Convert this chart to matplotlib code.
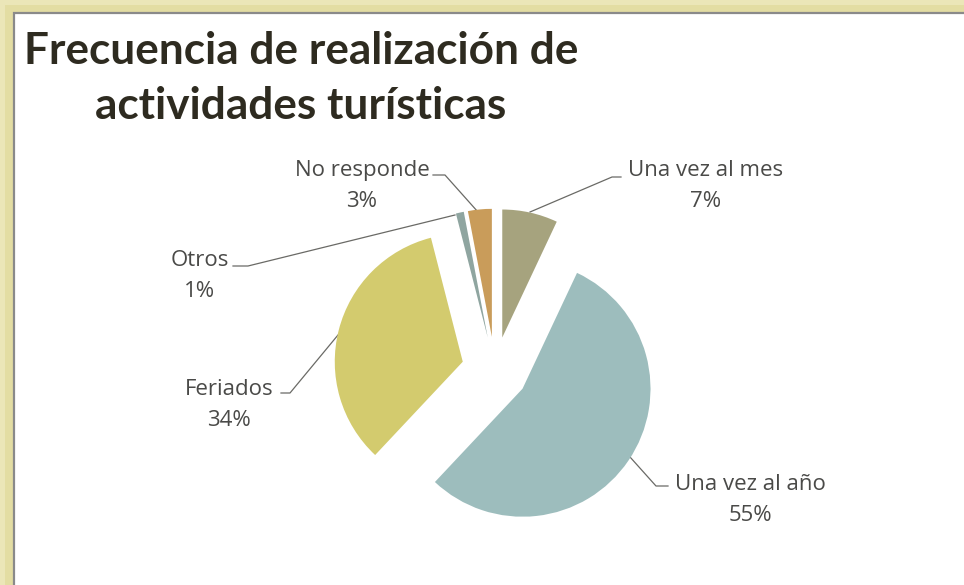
import matplotlib
matplotlib.use("Agg")
import matplotlib.pyplot as plt
from matplotlib.patches import Rectangle

# ---------- data ----------
categories = ["Una vez al mes", "Una vez al año", "Feriados", "Otros", "No responde"]
shares = [7, 55, 34, 1, 3]
colors = ["#a6a37e", "#9dbdbd", "#d3cb6e", "#8fa5a0", "#c99c5a"]
title_lines = ["Frecuencia de realización de", "actividades turísticas"]

# label centres and leader lines, in pixel coords of the 964x585 image (y down)
label_xy = [(706, 186), (750, 500), (229, 405), (200, 276), (362, 186)]
leaders = [
    [(621, 177), (612, 177), (530, 212)],
    [(668, 486), (656, 486), (630, 457)],
    [(281, 393), (290, 393), (338, 335)],
    [(233, 266), (248, 266), (455, 215)],
    [(433, 175), (445, 175), (478, 212)],
]

W, H = 964, 585
CX, CY, R = 495, 370, 128  # pie centre / radius in pixels

fig = plt.figure(figsize=(W / 100, H / 100), dpi=100)

# ---------- background frame ----------
bg = fig.add_axes([0, 0, 1, 1])
bg.set_xlim(0, W)
bg.set_ylim(H, 0)
bg.axis("off")
bg.add_patch(Rectangle((0, 0), W, H, facecolor="#e3dda3", edgecolor="none"))
bg.add_patch(Rectangle((0, 0), W, 5, facecolor="#ebe6b8", edgecolor="none"))
bg.add_patch(Rectangle((0, 0), 5, H, facecolor="#ebe6b8", edgecolor="none"))
bg.add_patch(Rectangle((13.5, 12.5), W, H, facecolor="white",
                       edgecolor="#8a8a8a", linewidth=1.6))

for line, yb in zip(title_lines, [64, 119]):
    bg.text(301, yb, line, ha="center", va="baseline", fontsize=31.8,
            fontweight="bold", family="Lato", color="#2e2b20")

for (cat, val), (x, y), pts in zip(zip(categories, shares), label_xy, leaders):
    bg.text(x, y, f"{cat}\n{val}%", ha="center", va="center",
            fontsize=16, family="Open Sans", color="#4a4a48", linespacing=1.6)
    xs, ys = zip(*pts)
    bg.plot(xs, ys, color="#6a6a66", linewidth=0.9)

# ---------- pie ----------
ax = fig.add_axes([0, 0, 1, 1])
ax.patch.set_alpha(0)
ax.pie(shares, colors=colors, startangle=90, counterclock=False,
       explode=[0.26] * len(shares), radius=1,
       wedgeprops=dict(linewidth=0))
ax.set_xlim(-CX / R, (W - CX) / R)
ax.set_ylim(-(H - CY) / R, CY / R)
ax.set_aspect("equal")
ax.axis("off")

fig.savefig("out.png", dpi=100)
